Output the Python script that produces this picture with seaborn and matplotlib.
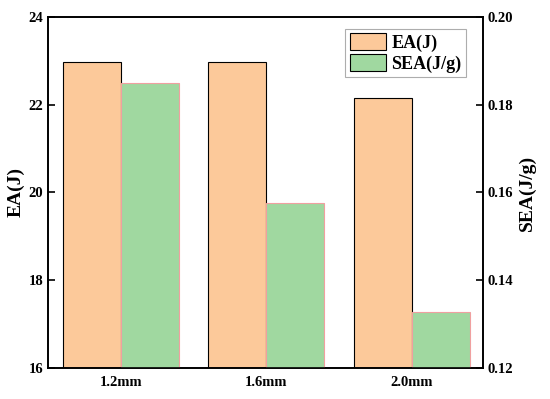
import pandas as pd
import matplotlib
matplotlib.use('Agg')
import matplotlib.pyplot as plt
import seaborn as sns

# Data
thickness = ['1.2mm', '1.6mm', '2.0mm']
ea_values = [22.97, 22.97, 22.16]
sea_values = [0.185, 0.1576, 0.1328]

ea_name = 'EA(J)'
sea_name = 'SEA(J/g)'

df = pd.DataFrame({
    'thickness': thickness * 2,
    'series': [ea_name] * 3 + [sea_name] * 3,
    'value': ea_values + sea_values,
})

sns.set_style('ticks')
plt.rcParams['font.family'] = ['Liberation Serif', 'DejaVu Serif']
plt.rcParams['font.weight'] = 'bold'
plt.rcParams['axes.linewidth'] = 1.2
plt.rcParams['text.color'] = 'black'
plt.rcParams['axes.labelcolor'] = 'black'
plt.rcParams['xtick.color'] = 'black'
plt.rcParams['ytick.color'] = 'black'

colors = {ea_name: '#FCC99A', sea_name: '#A0D8A0'}
edges = {ea_name: 'black', sea_name: '#F0A0A0'}

fig = plt.figure(figsize=(5.5, 3.99), dpi=100)
ax = fig.add_axes([0.0873, 0.0777, 0.791, 0.8797])
ax2 = ax.twinx()

# one call per axis; hue_order keeps the dodge offsets the same on both
for axis, name in [(ax, ea_name), (ax2, sea_name)]:
    sub = df[df['series'] == name]
    sns.barplot(data=sub, x='thickness', y='value', hue='series',
                hue_order=[ea_name, sea_name], order=thickness,
                palette=colors, saturation=1, dodge=True, width=0.8, ax=axis,
                edgecolor=edges[name], linewidth=0.8, legend=False)

ax.set_xlim(-0.5, 2.49)
ax.set_ylim(16, 24)
ax.set_yticks([16, 18, 20, 22, 24])
ax2.set_ylim(0.12, 0.20)
ax2.set_yticks([0.12, 0.14, 0.16, 0.18, 0.20])
ax2.set_yticklabels(['0.12', '0.14', '0.16', '0.18', '0.20'])

ax.set_xlabel('')
ax.set_ylabel('EA(J)', fontsize=14, fontweight='bold', labelpad=3)
ax2.set_ylabel('SEA(J/g)', fontsize=14, fontweight='bold', labelpad=4)

for axis in (ax, ax2):
    axis.tick_params(direction='in', length=5, width=1.2, labelsize=10.5)
    for sp in axis.spines.values():
        sp.set_visible(True)
        sp.set_linewidth(1.2)
        sp.set_color('black')
ax.tick_params(axis='x', pad=6)

handles = [plt.Rectangle((0, 0), 1, 1, facecolor=colors[ea_name], edgecolor='black', linewidth=0.8),
           plt.Rectangle((0, 0), 1, 1, facecolor=colors[sea_name], edgecolor='black', linewidth=0.8)]
leg = ax.legend(handles, [ea_name, sea_name], loc='upper right',
                bbox_to_anchor=(0.961, 0.966), fontsize=13, frameon=True,
                fancybox=False, edgecolor='#999999', borderpad=0.25,
                handlelength=2.0, handleheight=1.0, handletextpad=0.3,
                labelspacing=0.15, borderaxespad=0.0)
leg.get_frame().set_linewidth(0.8)

fig.savefig('out.png', dpi=100)
